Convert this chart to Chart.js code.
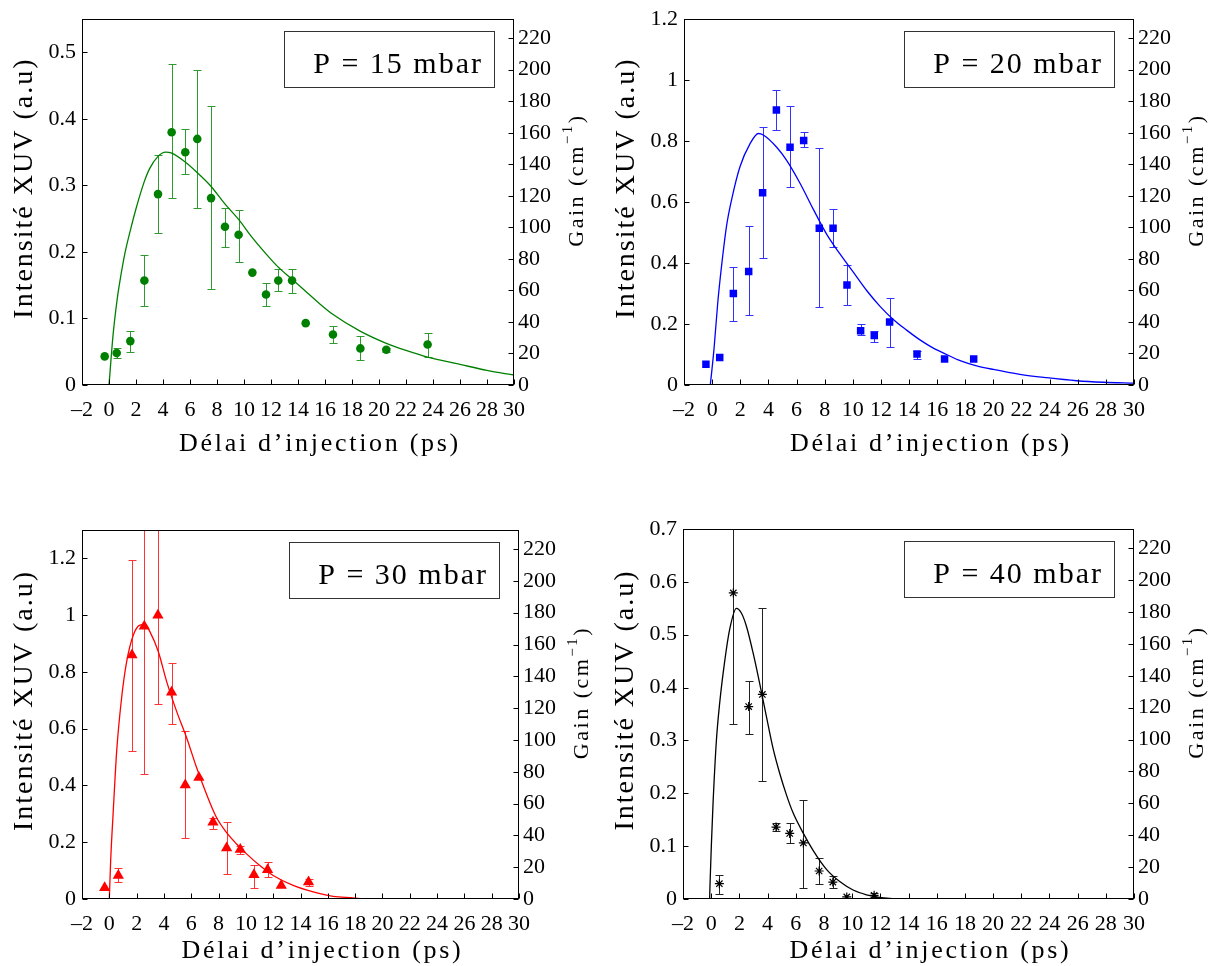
<!DOCTYPE html>
<html>
<head>
<meta charset="utf-8">
<script src="https://cdn.jsdelivr.net/npm/chart.js@4/dist/chart.umd.min.js"></script>
<style>
  body { margin: 0; background: #fff; width: 1215px; height: 966px; position: relative; overflow: hidden; }
  canvas { position: absolute; }
</style>
</head>
<body>
<canvas id="c15" width="600" height="480" style="left:0;top:0"></canvas>
<canvas id="c20" width="615" height="480" style="left:600px;top:0"></canvas>
<canvas id="c30" width="600" height="486" style="left:0;top:480px"></canvas>
<canvas id="c40" width="615" height="486" style="left:600px;top:480px"></canvas>
<script>
// axis ticks
const xTicks = [-2, 0, 2, 4, 6, 8, 10, 12, 14, 16, 18, 20, 22, 24, 26, 28, 30];
const gainTicks = [0, 20, 40, 60, 80, 100, 120, 140, 160, 180, 200, 220];
const yTicks15 = [0, 0.1, 0.2, 0.3, 0.4, 0.5];
const yTicks20 = [0, 0.2, 0.4, 0.6, 0.8, 1, 1.2];
const yTicks30 = [0, 0.2, 0.4, 0.6, 0.8, 1, 1.2];
const yTicks40 = [0, 0.1, 0.2, 0.3, 0.4, 0.5, 0.6, 0.7];

// P = 15 mbar : measured points (delay ps, intensity) + error bars
const x15 = [-0.32, 0.57, 1.58, 2.62, 3.63, 4.64, 5.65, 6.54, 7.56, 8.59, 9.6, 10.62, 11.63, 12.54, 13.56, 14.57, 16.59, 18.62, 20.54, 23.6];
const y15 = [0.043, 0.048, 0.066, 0.157, 0.287, 0.380, 0.350, 0.370, 0.281, 0.238, 0.226, 0.169, 0.136, 0.157, 0.157, 0.093, 0.076, 0.055, 0.053, 0.061];
const lo15 = [null, 0.041, 0.050, 0.119, 0.228, 0.281, 0.317, 0.266, 0.145, 0.207, 0.185, null, 0.119, 0.141, 0.139, null, 0.063, 0.038, 0.050, 0.042];
const hi15 = [null, 0.055, 0.081, 0.195, 0.346, 0.482, 0.385, 0.474, 0.419, 0.266, 0.263, null, 0.154, 0.175, 0.175, null, 0.088, 0.073, 0.056, 0.078];
// gain curve
const cx15 = [0, 0.3, 0.6, 0.8, 1.2, 1.6, 2.0, 2.6, 3.0, 3.6, 4.2, 4.6, 5.6, 6.5, 7.5, 8.6, 9.6, 10.6, 11.6, 12.5, 13.5, 14.5, 15.5, 16.6, 18.6, 20.5, 22, 23.6, 26, 28, 30];
const cy15 = [0, 0.075, 0.128, 0.155, 0.2, 0.234, 0.265, 0.305, 0.325, 0.343, 0.35, 0.349, 0.336, 0.32, 0.30, 0.272, 0.249, 0.222, 0.198, 0.178, 0.16, 0.142, 0.124, 0.106, 0.081, 0.063, 0.052, 0.042, 0.031, 0.022, 0.015];

// P = 20 mbar
const x20 = [-0.44, 0.54, 1.51, 2.6, 3.59, 4.57, 5.54, 6.51, 7.62, 8.6, 9.59, 10.56, 11.53, 12.62, 14.57, 16.53, 18.6];
const y20 = [0.068, 0.09, 0.30, 0.372, 0.631, 0.902, 0.780, 0.802, 0.514, 0.514, 0.328, 0.178, 0.162, 0.207, 0.102, 0.085, 0.085];
const lo20 = [null, null, 0.211, 0.229, 0.416, 0.836, 0.648, 0.780, 0.257, 0.454, 0.263, 0.163, 0.140, 0.124, 0.086, null, null];
const hi20 = [null, null, 0.388, 0.521, 0.847, 0.968, 0.914, 0.831, 0.776, 0.576, 0.394, 0.200, 0.178, 0.284, 0.110, null, null];
const cx20 = [-0.13, 0.13, 0.4, 0.68, 1.03, 1.39, 1.98, 2.69, 3.29, 3.64, 4.59, 5.3, 6.25, 7.2, 8.14, 9.09, 10.04, 10.99, 11.94, 12.88, 13.83, 14.78, 15.73, 16.68, 17.63, 18.81, 20.0, 21.89, 23.79, 25.92, 27.82, 30];
const cy20 = [0, 0.116, 0.27, 0.394, 0.523, 0.609, 0.716, 0.791, 0.825, 0.82, 0.78, 0.737, 0.662, 0.576, 0.495, 0.43, 0.37, 0.31, 0.258, 0.215, 0.18, 0.148, 0.121, 0.1, 0.08, 0.063, 0.051, 0.035, 0.024, 0.014, 0.009, 0.006];

// P = 30 mbar
const x30 = [-0.34, 0.66, 1.66, 2.56, 3.56, 4.56, 5.56, 6.56, 7.59, 8.59, 9.59, 10.59, 11.59, 12.59, 14.59];
const y30 = [0.04, 0.083, 0.86, 0.961, 1.0, 0.728, 0.402, 0.428, 0.27, 0.18, 0.174, 0.085, 0.103, 0.048, 0.06];
const lo30 = [null, 0.06, 0.523, 0.439, 0.687, 0.618, 0.215, null, 0.246, 0.089, 0.158, 0.04, 0.077, null, 0.045];
const hi30 = [null, 0.109, 1.196, 1.6, 1.4, 0.831, 0.591, null, 0.287, 0.27, 0.188, 0.121, 0.132, null, 0.072];
const cx30 = [0, 0.1, 0.29, 0.54, 0.9, 1.27, 1.76, 2.24, 2.61, 2.98, 3.59, 4.2, 4.93, 5.66, 6.39, 7.12, 7.85, 8.59, 9.32, 10.05, 11.02, 12.0, 13.46, 14.93, 16.39, 17.85, 18.83, 30];
const cy30 = [0, 0.136, 0.311, 0.521, 0.708, 0.836, 0.93, 0.965, 0.967, 0.941, 0.871, 0.766, 0.661, 0.568, 0.463, 0.369, 0.287, 0.234, 0.194, 0.159, 0.118, 0.083, 0.048, 0.025, 0.009, 0.004, 0, 0];

// P = 40 mbar
const x40 = [0.58, 1.57, 2.66, 3.63, 4.6, 5.57, 6.54, 7.66, 8.63, 9.62, 11.56];
const y40 = [0.029, 0.579, 0.364, 0.387, 0.136, 0.124, 0.106, 0.053, 0.032, 0.004, 0.007];
const lo40 = [0.01, 0.331, 0.312, 0.224, 0.128, 0.106, 0.021, 0.029, 0.021, null, 0.003];
const hi40 = [0.045, 0.75, 0.413, 0.55, 0.144, 0.143, 0.188, 0.078, 0.043, null, 0.011];
const cx40 = [-0.11, -0.08, 0.01, 0.13, 0.37, 0.6, 0.96, 1.31, 1.79, 2.14, 2.5, 2.97, 3.44, 3.92, 4.39, 4.86, 5.34, 5.81, 6.52, 7.23, 8.18, 9.12, 10.07, 11.02, 11.96, 13.0];
const cy40 = [0, 0.03, 0.1, 0.18, 0.3, 0.37, 0.45, 0.51, 0.55, 0.541, 0.516, 0.466, 0.408, 0.345, 0.285, 0.238, 0.197, 0.163, 0.125, 0.092, 0.056, 0.033, 0.017, 0.008, 0.003, 0];

Chart.defaults.font.family = '"Liberation Serif", serif';
Chart.defaults.font.size = 22;
Chart.defaults.color = '#000';

const SERIF = '"Liberation Serif", serif';

// vertical error bars with small caps
const errPlugin = {
    id: 'errbars',
    beforeDatasetsDraw(chart) {
        const ds = chart.data.datasets[1];
        const xs = chart.scales.x, ys = chart.scales.y;
        const ca = chart.chartArea;
        const ctx = chart.ctx;
        ctx.save();
        ctx.beginPath();
        ctx.rect(ca.left, ca.top, ca.right - ca.left, ca.bottom - ca.top);
        ctx.clip();
        ctx.strokeStyle = ds.errColor;
        ctx.lineWidth = 1;
        ds.data.forEach((p, i) => {
            const lo = ds.errLo[i], hi = ds.errHi[i];
            if (lo == null) return;
            const px = Math.round(xs.getPixelForValue(p.x)) + 0.5;
            const yl = Math.round(ys.getPixelForValue(lo)) + 0.5;
            const yh = Math.round(ys.getPixelForValue(hi)) + 0.5;
            ctx.beginPath();
            ctx.moveTo(px, yl); ctx.lineTo(px, yh);
            ctx.moveTo(px - 4, yl); ctx.lineTo(px + 4, yl);
            ctx.moveTo(px - 4, yh); ctx.lineTo(px + 4, yh);
            ctx.stroke();
        });
        ctx.restore();
    }
};

// frame, inward ticks, axis titles and the pressure box
function framePlugin(o) {
    return {
        id: 'frame',
        afterDraw(chart) {
            const ctx = chart.ctx;
            const ca = chart.chartArea;
            const xs = chart.scales.x, ys = chart.scales.y, gs = chart.scales.g;
            const L = Math.round(ca.left) + 0.5, R = Math.round(ca.right) - 0.5;
            const T = Math.round(ca.top) + 0.5, B = Math.round(ca.bottom) - 0.5;
            ctx.save();
            ctx.strokeStyle = '#000';
            ctx.lineWidth = 1;
            ctx.strokeRect(L, T, R - L, B - T);

            ctx.beginPath();
            xTicks.forEach(v => {
                const px = Math.round(xs.getPixelForValue(v)) + 0.5;
                ctx.moveTo(px, B); ctx.lineTo(px, B - 5);
            });
            o.yTicks.forEach(v => {
                const py = Math.round(ys.getPixelForValue(v)) + 0.5;
                ctx.moveTo(L, py); ctx.lineTo(L + 5, py);
            });
            gainTicks.forEach(v => {
                const py = Math.round(gs.getPixelForValue(v)) + 0.5;
                ctx.moveTo(R, py); ctx.lineTo(R - 5, py);
            });
            ctx.stroke();

            const midX = (ca.left + ca.right) / 2, midY = (ca.top + ca.bottom) / 2;
            ctx.fillStyle = '#000';
            ctx.textBaseline = 'middle';

            // x title
            ctx.font = '26px ' + SERIF;
            ctx.letterSpacing = '2.7px';
            ctx.textAlign = 'center';
            ctx.fillText('D\u00e9lai d\u2019injection (ps)', midX + 22, ca.bottom + o.xt);

            // left title
            ctx.save();
            ctx.translate(ca.left - 57, midY - 14);
            ctx.rotate(-Math.PI / 2);
            ctx.font = '28px ' + SERIF;
            ctx.letterSpacing = '2px';
            ctx.fillText('Intensit\u00e9 XUV (a.u)', 0, 0);
            ctx.restore();

            // right title with superscript
            ctx.save();
            ctx.translate(ca.right + 63, midY - 22);
            ctx.rotate(-Math.PI / 2);
            ctx.textAlign = 'left';
            ctx.letterSpacing = '2.5px';
            ctx.font = '22px ' + SERIF;
            const a = 'Gain (cm', c = ')';
            const wa = ctx.measureText(a).width, wc = ctx.measureText(c).width;
            ctx.font = '15px ' + SERIF;
            const b = '\u22121';
            const wb = ctx.measureText(b).width;
            let px = -(wa + wb + wc) / 2;
            ctx.font = '22px ' + SERIF;
            ctx.fillText(a, px, 0);
            ctx.font = '15px ' + SERIF;
            ctx.fillText(b, px + wa, -9);
            ctx.font = '22px ' + SERIF;
            ctx.fillText(c, px + wa + wb, 0);
            ctx.restore();

            // pressure box
            const bx = ca.right - 230, by = ca.top + 12;
            ctx.strokeStyle = '#333';
            ctx.strokeRect(Math.round(bx) + 0.5, Math.round(by) + 0.5, 210, 56);
            ctx.font = '30px ' + SERIF;
            ctx.letterSpacing = '2px';
            ctx.textAlign = 'right';
            ctx.textBaseline = 'alphabetic';
            ctx.fillText(o.label, bx + 199, by + 42);
            ctx.restore();
        }
    };
}

function fmt(v) {
    if (v < 0) return '\u2013' + (-v);
    return String(+v.toFixed(2));
}

function makePanel(id, o) {
    const pts = o.x.map((v, i) => ({ x: v, y: o.y[i] }));
    const curve = o.cx.map((v, i) => ({ x: v, y: o.cy[i] }));
    new Chart(document.getElementById(id), {
        type: 'scatter',
        data: {
            datasets: [
                {
                    data: curve, showLine: true, pointRadius: 0,
                    borderColor: o.color, borderWidth: 1.3,
                    cubicInterpolationMode: 'monotone', yAxisID: 'y'
                },
                {
                    data: pts, pointStyle: o.marker, pointRadius: o.r,
                    backgroundColor: o.color, borderColor: o.color,
                    borderWidth: o.marker === 'star' ? 1.2 : 0,
                    errLo: o.lo, errHi: o.hi, errColor: o.errColor, yAxisID: 'y'
                }
            ]
        },
        options: {
            responsive: false,
            animation: false,
            events: [],
            layout: { padding: { top: o.top, left: 0, right: 0, bottom: 0 } },
            plugins: { legend: { display: false }, tooltip: { enabled: false } },
            scales: {
                x: {
                    type: 'linear', min: -2, max: 30,
                    grid: { display: false, drawTicks: false }, border: { display: false },
                    afterBuildTicks: s => { s.ticks = xTicks.map(v => ({ value: v })); },
                    afterFit: s => { s.height = o.xh; },
                    ticks: { padding: 12, maxRotation: 0, autoSkip: false, callback: v => fmt(v) }
                },
                y: {
                    type: 'linear', position: 'left', min: 0, max: o.ymax,
                    grid: { display: false, drawTicks: false }, border: { display: false },
                    afterBuildTicks: s => { s.ticks = o.yTicks.map(v => ({ value: v })); },
                    afterFit: s => { s.width = o.lw; },
                    ticks: { padding: 6, callback: v => fmt(v) }
                },
                g: {
                    type: 'linear', axis: 'y', position: 'right', min: 0, max: 232,
                    grid: { display: false, drawTicks: false }, border: { display: false },
                    afterBuildTicks: s => { s.ticks = gainTicks.map(v => ({ value: v })); },
                    afterFit: s => { s.width = o.rw; },
                    ticks: { padding: 4, callback: v => String(v) }
                }
            }
        },
        plugins: [errPlugin, framePlugin(o)]
    });
}

makePanel('c15', {
    x: x15, y: y15, lo: lo15, hi: hi15, cx: cx15, cy: cy15,
    color: '#008000', errColor: '#2f9a2f', marker: 'circle', r: 4.3,
    ymax: 0.55, yTicks: yTicks15, label: 'P = 15 mbar',
    top: 13, lw: 82, rw: 86, xh: 95, xt: 59
});
makePanel('c20', {
    x: x20, y: y20, lo: lo20, hi: hi20, cx: cx20, cy: cy20,
    color: '#0000ff', errColor: '#3333ff', marker: 'rect', r: 5.3,
    ymax: 1.2, yTicks: yTicks20, label: 'P = 20 mbar',
    top: 14, lw: 84, rw: 81, xh: 95, xt: 59
});
makePanel('c30', {
    x: x30, y: y30, lo: lo30, hi: hi30, cx: cx30, cy: cy30,
    color: '#ff0000', errColor: '#ff3333', marker: 'triangle', r: 6.5,
    ymax: 1.3, yTicks: yTicks30, label: 'P = 30 mbar',
    top: 50, lw: 82, rw: 81, xh: 67, xt: 52
});
makePanel('c40', {
    x: x40, y: y40, lo: lo40, hi: hi40, cx: cx40, cy: cy40,
    color: '#000000', errColor: '#222222', marker: 'star', r: 4.5,
    ymax: 0.7, yTicks: yTicks40, label: 'P = 40 mbar',
    top: 49, lw: 83, rw: 81, xh: 67, xt: 52
});
</script>
</body>
</html>
